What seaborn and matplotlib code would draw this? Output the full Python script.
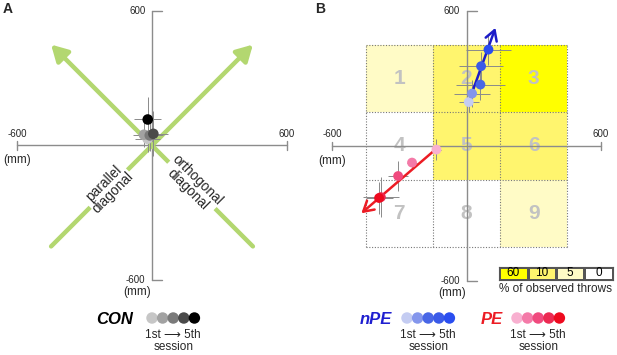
import numpy as np
import pandas as pd
import matplotlib
matplotlib.use("Agg")
import matplotlib.pyplot as plt
import seaborn as sns
from matplotlib.colors import ListedColormap, BoundaryNorm

# ---- data (mm) ----
sessions = [1, 2, 3, 4, 5]

con_x = [-20, -36, -10, 6, -19]
con_y = [30, 48, 45, 52, 116]
con_xerr = [55, 50, 60, 65, 61]
con_yerr = [60, 55, 70, 100, 100]

npe_x = [10, 25, 62, 65, 98]
npe_y = [196, 234, 274, 356, 430]
npe_xerr = [45, 80, 110, 97, 100]
npe_yerr = [45, 60, 70, 65, 70]

pe_x = [-134, -243, -305, -382, -390]
pe_y = [-16, -74, -134, -228, -232]
pe_xerr = [22, 22, 45, 80, 60]
pe_yerr = [45, 22, 65, 90, 70]

npe_arrow = [(13, 205), (129, 527)]
pe_arrow = [(-132, -10), (-469, -300)]
diag_arrows = [[(-450, -450), (450, 450)], [(450, -450), (-450, 450)]]

cell_edges = [-450, -150, 150, 450]
cell_numbers = [[7, 8, 9], [4, 5, 6], [1, 2, 3]]   # bottom row first
cell_level = [[0, 0, 1], [0, 2, 2], [1, 2, 3]]     # 0:0%, 1:5%, 2:10%, 3:60%
level_labels = ["0", "5", "10", "60"]

con_colors = ['#c6c6c6', '#a2a2a2', '#7a7a7a', '#4a4a4a', '#000000']
npe_colors = ['#c4ccf2', '#8496ec', '#4866e6', '#3a5ae8', '#2a4ef0']
pe_colors = ['#f8b0d0', '#f47aa8', '#f04a7e', '#ec2a52', '#ee0a1e']
yellow = ['#ffffff', '#fffbc6', '#fff56e', '#ffff00']

sns.set_theme(style="white")
plt.rcParams['font.family'] = ['Liberation Sans', 'DejaVu Sans']

W, H = 617, 355
S = 0.2242  # px per mm
fig = plt.figure(figsize=(W / 100, H / 100), dpi=100)


def place(ox, oy, xlim, ylim):
    ax = fig.add_axes([(ox + xlim[0] * S) / W,
                       (H - (oy - ylim[0] * S)) / H,
                       (xlim[1] - xlim[0]) * S / W,
                       (ylim[1] - ylim[0]) * S / H])
    ax.set_xlim(xlim)
    ax.set_ylim(ylim)
    ax.axis("off")
    return ax


axc = '#8c8c8c'


def draw_axes(ax):
    ax.plot([-600, 600], [0, 0], color=axc, lw=1, zorder=2)
    ax.plot([0, 0], [-600, 600], color=axc, lw=1, zorder=2)
    for v in (-600, 600):
        ax.plot([v, v], [-18, 18], color=axc, lw=1, zorder=2)
        ax.plot([0, 45], [v, v], color=axc, lw=1, zorder=2)
    ax.text(-600, 30, "-600", ha="center", va="bottom", fontsize=7)
    ax.text(600, 30, "600", ha="center", va="bottom", fontsize=7)
    ax.text(-600, -40, "(mm)", ha="center", va="top", fontsize=8.5)
    ax.text(-30, 600, "600", ha="right", va="center", fontsize=7)
    ax.text(-30, -600, "-600", ha="right", va="center", fontsize=7)
    ax.text(-65, -628, "(mm)", ha="center", va="top", fontsize=8.5)


def session_points(ax, xs, ys, xe, ye, colors, size):
    ax.errorbar(xs, ys, xerr=xe, yerr=ye, fmt="none", ecolor='#8a8a8a',
                elinewidth=0.7, capsize=0, zorder=4)
    df = pd.DataFrame({"x": xs, "y": ys, "session": sessions})
    sns.scatterplot(data=df, x="x", y="y", hue="session", palette=colors,
                    s=size, edgecolor="none", legend=False, ax=ax, zorder=6)
    ax.set_xlabel("")
    ax.set_ylabel("")


# ---- panel A ----
axA = place(152, 145.5, (-670, 680), (-720, 640))
draw_axes(axA)
for (x0, y0), (x1, y1) in diag_arrows:
    axA.annotate("", xy=(x1, y1), xytext=(x0, y0),
                 arrowprops=dict(arrowstyle="-|>,head_length=0.8,head_width=0.45",
                                 color='#b3d770', lw=3.2, shrinkA=0, shrinkB=0),
                 zorder=3)
bb = dict(facecolor="white", edgecolor="none", pad=0.3)
axA.text(-195, -190, "parallel\ndiagonal", rotation=45, ha="center", va="center",
         fontsize=9.8, linespacing=0.9, bbox=bb, zorder=3.5)
axA.text(180, -176, "orthogonal\ndiagonal", rotation=-45, ha="center", va="center",
         fontsize=9.8, linespacing=0.9, bbox=bb, zorder=3.5)
session_points(axA, con_x, con_y, con_xerr, con_yerr, con_colors, 58)

# ---- panel B ----
axB = place(466.5, 146, (-690, 660), (-720, 640))
cmap = ListedColormap(yellow)
norm = BoundaryNorm([-0.5, 0.5, 1.5, 2.5, 3.5], cmap.N)
axB.pcolormesh(cell_edges, cell_edges, np.array(cell_level), cmap=cmap, norm=norm, zorder=0)
for e in cell_edges:
    axB.plot([e, e], [-450, 450], color='#777777', lw=0.8, ls=(0, (1, 1.5)), zorder=1)
    axB.plot([-450, 450], [e, e], color='#777777', lw=0.8, ls=(0, (1, 1.5)), zorder=1)
centers = [-300, 0, 300]
for r, cy in enumerate(centers):
    for c, cx in enumerate(centers):
        axB.text(cx, cy, str(cell_numbers[r][c]), ha="center", va="center",
                 fontsize=15, fontweight="bold", color='#c2c2c2', zorder=1.5)
draw_axes(axB)
for (p0, p1), col in ((npe_arrow, '#1c1cc8'), (pe_arrow, '#ec1c24')):
    axB.annotate("", xy=p1, xytext=p0,
                 arrowprops=dict(arrowstyle="->,head_length=0.6,head_width=0.35",
                                 color=col, lw=1.8, shrinkA=0, shrinkB=0),
                 zorder=5)
session_points(axB, npe_x, npe_y, npe_xerr, npe_yerr, npe_colors, 50)
session_points(axB, pe_x, pe_y, pe_xerr, pe_yerr, pe_colors, 50)

# colour key
axK = axB.inset_axes([146, -597, 506, 57], transform=axB.transData)
key = pd.DataFrame([[3, 2, 1, 0]])
sns.heatmap(key, cmap=cmap, norm=norm, cbar=False, ax=axK,
            annot=np.array([[level_labels[v] for v in key.iloc[0]]]), fmt="",
            annot_kws={"fontsize": 8.5, "color": "black"},
            linewidths=0.8, linecolor='#555555')
axK.set_xticks([])
axK.set_yticks([])
for sp in axK.spines.values():
    sp.set_visible(True)
    sp.set_color('#555555')
    sp.set_linewidth(0.8)
axB.text(399, -610, "% of observed throws", ha="center", va="top", fontsize=8.5)

# ---- labels and session legends ----
ov = fig.add_axes([0, 0, 1, 1], zorder=10)
ov.set_xlim(0, W)
ov.set_ylim(H, 0)
ov.axis("off")
ov.patch.set_visible(False)
ov.text(3, 9, "A", fontsize=10, fontweight="bold", va="center")
ov.text(315, 9, "B", fontsize=10, fontweight="bold", va="center")

groups = [("CON", 'black', 133, 152, con_colors),
          ("nPE", '#1f1fd0', 392, 407, npe_colors),
          ("PE", '#ec1c24', 503, 517, pe_colors)]
for name, tcol, tx, cx0, cols in groups:
    ov.text(tx, 319, name, ha="right", va="center", fontsize=12,
            fontweight="bold", fontstyle="italic", color=tcol)
    dots = pd.DataFrame({"x": [cx0 + 10.6 * i for i in range(5)],
                         "y": [318] * 5, "session": sessions})
    sns.scatterplot(data=dots, x="x", y="y", hue="session", palette=cols, s=68,
                    edgecolor="none", legend=False, ax=ov)
    mid = cx0 + 21.2
    ov.text(mid, 335, "1st \u27f6 5th", ha="center", va="center", fontsize=8.5)
    ov.text(mid, 347, "session", ha="center", va="center", fontsize=8.5)
ov.set_xlabel("")
ov.set_ylabel("")
ov.axis("off")

fig.savefig("out.png", dpi=100)
